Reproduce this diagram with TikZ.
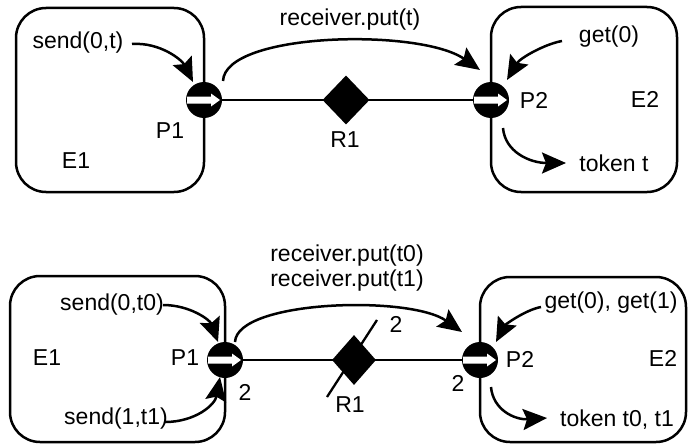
\documentclass[tikz,border=0pt]{standalone}
\usepackage{fontspec}
\setmainfont{Liberation Sans}
\usetikzlibrary{arrows.meta,shapes.geometric}
\tikzset{
  envbox/.style={draw, line width=2.5pt, rounded corners=30pt, inner sep=0pt},
  portnode/.style={circle, fill=black, minimum size=36pt, inner sep=0pt,
    path picture={\fill[white] ([xshift=-17pt,yshift=3.5pt]path picture bounding box.center)
      -- ++(24pt,0pt) -- ++(0pt,3pt) -- ++(9pt,-6.5pt) -- ++(-9pt,-6.5pt)
      -- ++(0pt,3pt) -- ++(-24pt,0pt) -- cycle;}},
  relnode/.style={diamond, fill=black, inner sep=0pt, minimum width=47pt, minimum height=49pt},
  lbl/.style={inner sep=0pt, font=\fontsize{23}{27}\selectfont},
  link/.style={line width=2.3pt},
  flow/.style={line width=2.5pt, -{Stealth[length=24pt,width=21pt,inset=4pt]}}
}
\begin{document}
\begin{tikzpicture}[x=1pt,y=-1pt]
\useasboundingbox (0,0) rectangle (688,444);
% ---------- top diagram ----------
\node[envbox, minimum width=188pt, minimum height=184pt] (tE1box) at (110,100) {};
\node[envbox, minimum width=186pt, minimum height=185pt] (tE2box) at (584,99.5) {};
\coordinate (tP1c) at (204,100);
\coordinate (tP2c) at (491,100);
\draw[link] (tP1c) -- (tP2c);
\node[relnode] (tR1) at (346,100) {};
\node[portnode] (tP1) at (tP1c) {};
\node[portnode] (tP2) at (tP2c) {};

\node[lbl] (tsend) at (78,43) {send(0,t)};
\node[lbl] (tput) at (350,20) {receiver.put(t)};
\node[lbl] (tP1l) at (170,131) {P1};
\node[lbl] (tE1l) at (76,161) {E1};
\node[lbl] (tR1l) at (345,140) {R1};
\node[lbl] (tget) at (609,37) {get(0)};
\node[lbl] (tP2l) at (534,100) {P2};
\node[lbl] (tE2l) at (645,99) {E2};
\node[lbl] (ttok) at (614,163) {token t};

\coordinate (ta1) at (132,44);   \coordinate (ta1e) at (193,82);
\coordinate (ta2) at (223,81);   \coordinate (ta2e) at (480,70);
\coordinate (ta3) at (562,41);   \coordinate (ta3e) at (507,80);
\coordinate (ta4) at (503,128);  \coordinate (ta4e) at (566,163);
\draw[flow] (ta1) .. controls (160,42) and (182,60) .. (ta1e);
\draw[flow] (ta2) .. controls (225,32) and (420,28) .. (ta2e);
\draw[flow] (ta3) .. controls (545,44) and (520,58) .. (ta3e);
\draw[flow] (ta4) .. controls (505,152) and (530,163) .. (ta4e);

% ---------- bottom diagram ----------
\node[envbox, minimum width=215pt, minimum height=166pt] (bE1box) at (117.5,359) {};
\node[envbox, minimum width=206pt, minimum height=165pt] (bE2box) at (583,359.5) {};
\coordinate (bP1c) at (225,360);
\coordinate (bP2c) at (480,360);
\draw[link] (bP1c) -- (bP2c);
\coordinate (bs1) at (327,397);
\coordinate (bs2) at (377,320);
\draw[link] (bs1) -- (bs2);
\node[relnode, minimum width=44pt, minimum height=50pt] (bR1) at (354,360) {};
\node[portnode] (bP1) at (bP1c) {};
\node[portnode] (bP2) at (bP2c) {};

\node[lbl] (bput0) at (347,256) {receiver.put(t0)};
\node[lbl] (bput1) at (347,281) {receiver.put(t1)};
\node[lbl] (bsend0) at (112,305) {send(0,t0)};
\node[lbl] (bsend1) at (116,419) {send(1,t1)};
\node[lbl] (bE1l) at (47,358) {E1};
\node[lbl] (bP1l) at (185,358) {P1};
\node[lbl] (bn1) at (245,392) {2};
\node[lbl] (bR1l) at (350,405) {R1};
\node[lbl] (bn2) at (396,324) {2};
\node[lbl] (bn3) at (458,383) {2};
\node[lbl] (bget) at (611,303) {get(0), get(1)};
\node[lbl] (bP2l) at (520,359) {P2};
\node[lbl] (bE2l) at (663,358) {E2};
\node[lbl] (btok) at (617,420) {token t0, t1};

\coordinate (ba1) at (163,305);  \coordinate (ba1e) at (218,342);
\coordinate (ba2) at (165,422);  \coordinate (ba2e) at (220,377);
\coordinate (ba3) at (235,342);  \coordinate (ba3e) at (462,332);
\coordinate (ba4) at (541,307);  \coordinate (ba4e) at (496,342);
\coordinate (ba5) at (491,387);  \coordinate (ba5e) at (547,418);
\draw[flow] (ba1) .. controls (190,305) and (210,320) .. (ba1e);
\draw[flow] (ba2) .. controls (195,422) and (215,405) .. (ba2e);
\draw[flow] (ba3) .. controls (237,300) and (410,295) .. (ba3e);
\draw[flow] (ba4) .. controls (525,310) and (505,325) .. (ba4e);
\draw[flow] (ba5) .. controls (493,410) and (515,420) .. (ba5e);
\end{tikzpicture}
\end{document}
